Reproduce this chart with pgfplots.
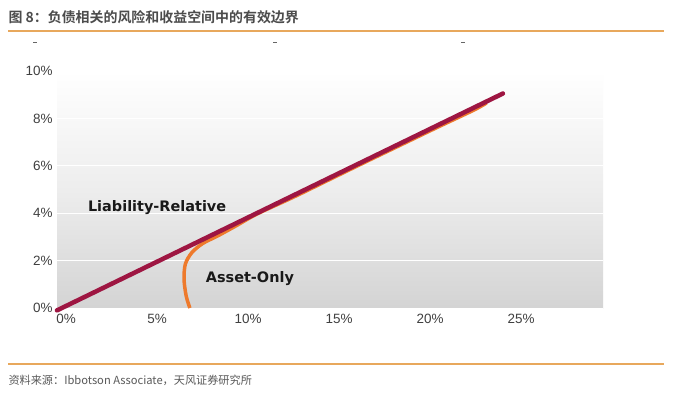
\documentclass[border=0pt]{standalone}
\usepackage{pgfplots}
\pgfplotsset{compat=1.18}
\usepackage{fontspec}
\setmainfont{Liberation Sans}
\newfontfamily\dejab{DejaVu Sans}[UprightFont=* Bold]
\newfontfamily\cjk{Noto Sans CJK SC}
\newfontfamily\cjkb{Noto Sans CJK SC}[UprightFont=* Bold]
\definecolor{crim}{HTML}{9E1642}
\definecolor{orng}{HTML}{EE7A2C}
\definecolor{rule}{HTML}{E8A85C}
\begin{document}
\begin{tikzpicture}[x=1bp,y=1bp]
\path[fill=white] (0,0) rectangle (674,398);
\node[anchor=west,text=black!70,font=\cjkb\fontsize{14}{16}\selectfont] at (5,381) {图 8：负债相关的风险和收益空间中的有效边界};
\draw[rule,line width=1.2bp] (8,367) -- (664,367);
\draw[black!60,line width=0.8bp] (33,356) -- (37,356);
\draw[black!60,line width=0.8bp] (273,356) -- (277,356);
\draw[black!60,line width=0.8bp] (461,356) -- (465,356);
\draw[rule,line width=1.2bp] (8,34) -- (664,34);
\node[anchor=west,text=black!65,font=\cjk\fontsize{11.2}{13}\selectfont] at (5,18) {资料来源：Ibbotson Associate，天风证券研究所};
\begin{axis}[
  at={(57bp,90bp)}, anchor=south west,
  scale only axis, width=546bp, height=237bp,
  xmin=0, xmax=30, ymin=0, ymax=10,
  xtick={0,5,10,15,20,25}, ytick={0,2,4,6,8,10},
  xticklabels={0\%,5\%,10\%,15\%,20\%,25\%},
  yticklabels={0\%,2\%,4\%,6\%,8\%,10\%},
  axis line style={draw=none},
  major tick length=0pt,
  tick label style={font=\fontsize{13.5}{15}\selectfont, text=black!75},
  xticklabel style={xshift=9bp, yshift=-3bp},
  yticklabel style={xshift=-1bp},
  ymajorgrids, major grid style={white, line width=1bp},
  axis background/.style={shade, top color=white, bottom color=black!17, middle color=black!7},
  clip=false,
]
\addplot[orng, line width=3.5bp, smooth] coordinates {
 (7.3,0.0) (7.1,0.5) (6.98,1.2) (7.05,1.85) (7.4,2.33) (8.0,2.72) (8.8,3.03) (9.8,3.45) (11,3.97) (13,4.68) (15,5.43) (17,6.18) (19,6.92) (21,7.66) (22.9,8.35) (23.6,8.65)
};
\addplot[crim, line width=4.5bp, line cap=round] coordinates {(0,-0.1) (24.5,9.05)};
\node[font=\dejab\fontsize{14.5}{16}\selectfont, text=black!90] at (axis cs:5.5,4.25) {Liability-Relative};
\node[font=\dejab\fontsize{14.5}{16}\selectfont, text=black!90] at (axis cs:10.6,1.25) {Asset-Only};
\end{axis}
\end{tikzpicture}
\end{document}
